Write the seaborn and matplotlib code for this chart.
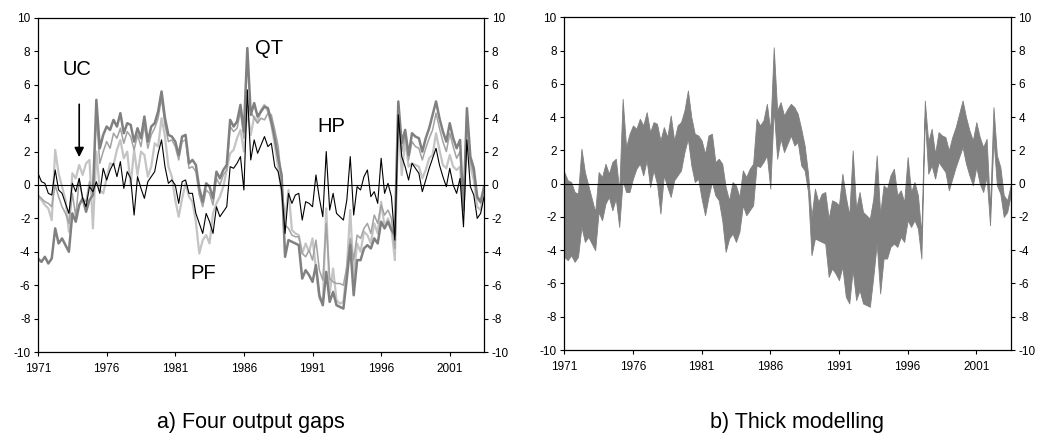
import numpy as np
import pandas as pd
import matplotlib.pyplot as plt
import seaborn as sns

# Quarterly output gaps (%), 1971Q1 - 2003Q3
start_year = 1971

hp = [0.7, 0.2, 0.1, -0.5,
      -0.6, 0.9, -0.3, -0.5,
      -1.1, -1.7, 0.1, -0.4,
      0.4, -0.8, -1.3, -0.1,
      -0.4, 0.2, -0.5, 1.0,
      0.3, 0.9, 1.3, 0.5,
      1.4, -0.2, 0.8, 0.4,
      -1.8, 0.5, -0.2, -0.8,
      0.2, 0.5, 0.8, 1.9,
      2.7, 1.1, 0.1, 0.3,
      0.0, -1.1, 0.2, 0.3,
      -0.5, -0.5, -1.7, -2.3,
      -2.9, -1.7, -2.2, -2.9,
      -1.3, -1.9, -1.6, -1.3,
      1.1, 1.0, 1.3, 1.7,
      -0.3, 5.7, 1.5, 2.7,
      1.9, 2.4, 2.9, 2.3,
      2.5, 1.1, 0.8, -0.3,
      -2.9, -0.5, -1.1, -0.6,
      -0.5, -2.1, -1.0, -1.1,
      -1.3, 0.6, -0.8, -1.9,
      2.0, -1.5, -0.5, -1.7,
      -1.9, -2.1, -0.9, 1.7,
      -1.8, -0.1, -0.3, 0.5,
      0.9, -0.7, -0.4, -1.1,
      1.6, -0.5, 0.1, -0.7,
      -3.3, 4.2, 1.7, 1.1,
      0.3, 1.3, 1.0, 0.7,
      -0.4, 0.3, 1.0, 1.6,
      2.2, 1.2, 0.5, -0.1,
      1.0, 0.0, -0.5, 0.4,
      -2.5, 2.7, -0.1, -0.6,
      -2.0, -1.7, -0.7]

qt = [-4.4, -4.6, -4.3, -4.7,
      -4.4, -2.6, -3.5, -3.2,
      -3.6, -4.0, -1.7, -2.2,
      -1.2, -0.8, -1.6, -0.9,
      -0.6, 5.1, 2.2, 3.0,
      3.5, 3.3, 3.9, 3.5,
      4.3, 3.1, 3.7, 3.6,
      2.6, 3.4, 2.8, 4.1,
      2.6, 3.5, 3.7, 4.4,
      5.6, 4.0, 3.0, 2.9,
      2.6, 1.8, 2.9, 3.0,
      1.3, 1.5, 1.2, -0.2,
      -1.0, 0.1, -0.1, -0.8,
      0.8, 0.4, 0.9, 1.2,
      3.9, 3.5, 3.8, 4.8,
      3.2, 8.2, 4.2, 4.9,
      4.1, 4.4, 4.7, 4.6,
      3.8, 2.8, 1.6, 0.6,
      -4.3, -3.3, -3.4, -3.5,
      -3.6, -5.6, -5.1, -5.4,
      -5.8, -4.8, -6.6, -7.2,
      -5.2, -7.0, -6.4, -7.2,
      -7.3, -7.4, -5.6, -3.6,
      -6.6, -4.5, -4.5, -3.8,
      -3.6, -3.8, -3.2, -3.5,
      -2.2, -2.6, -2.2, -2.7,
      -3.0, 5.0, 2.5, 3.3,
      1.8, 3.1, 2.9, 2.8,
      2.0, 2.8, 3.4, 4.2,
      5.0, 4.0, 3.2, 2.6,
      3.7, 2.8, 2.2, 2.7,
      -1.5, 4.6, 1.7, 1.0,
      -0.7, -1.0, -0.1]

uc = [-0.6, -0.8, -1.0, -1.1,
      -1.3, 0.0, -0.7, -1.3,
      -1.7, -2.3, -0.5, -1.9,
      0.3, -0.8, -1.0, 0.2,
      -0.4, 4.2, 1.3, 2.0,
      2.6, 2.2, 3.1, 2.8,
      3.4, 2.5, 3.2, 2.9,
      2.1, 3.0, 2.3, 3.6,
      2.2, 3.0, 3.4, 4.0,
      5.2, 3.6, 2.6, 2.7,
      2.3, 1.5, 2.6, 2.7,
      1.0, 1.1, 0.8, -0.6,
      -1.3, -0.3, -0.5, -1.2,
      0.4, 0.0, 0.6, 0.9,
      3.5, 3.2, 3.4, 4.4,
      2.8, 4.8, 4.4, 4.0,
      3.7, 4.0, 3.9, 4.3,
      4.2, 3.3, 2.3, 0.2,
      -2.4, -2.6, -3.0, -3.1,
      -3.1, -4.1, -4.3, -3.9,
      -4.5, -3.3, -5.1, -5.7,
      -2.3, -5.6, -5.8, -5.9,
      -5.9, -6.0, -4.9, -3.2,
      -4.5, -3.0, -3.2, -2.6,
      -2.3, -2.9, -1.8, -2.3,
      -1.2, -1.8, -1.5, -2.0,
      -3.8, 4.8, 2.0, 3.0,
      1.5, 2.6, 2.3, 2.2,
      1.5, 2.2, 2.8, 3.3,
      4.3, 3.4, 2.6, 2.0,
      3.1, 2.3, 1.6, 2.0,
      -1.5, 4.2, 1.4, 0.7,
      -0.8, -1.1, -0.2]

pf = [-0.7, -0.9, -1.2, -1.4,
      -2.1, 2.1, 0.7, -0.1,
      -0.9, -2.8, 0.7, 0.4,
      1.2, 0.6, 1.3, 1.5,
      -2.6, 2.0, -0.3, -0.5,
      0.4, 1.3, 1.2, 2.1,
      2.7, 1.6, 2.0, 0.0,
      2.1, 0.6, 2.0, 1.8,
      0.5, 1.1, 2.5, 2.3,
      4.0, 2.9, 1.1, 0.5,
      -0.9, -1.9, -0.8, 0.1,
      -0.7, -1.0, -2.2, -4.1,
      -3.3, -3.0, -3.5, -1.7,
      -1.1, -0.7, -0.1, 0.9,
      1.9, 2.1, 2.8, 3.3,
      2.0, 4.5, 3.0, 4.1,
      3.8, 4.5, 4.8, 4.4,
      3.6, 2.4, 1.0, -0.5,
      -2.0, -0.3, -2.7, -2.9,
      -3.0, -4.1, -3.5, -4.0,
      -3.2, -5.0, -6.8, -7.1,
      -1.4, -6.5, -5.0, -6.9,
      -7.1, -7.0, -5.0, -1.5,
      -5.5, -3.5, -4.0, -2.8,
      -3.0, -3.5, -2.3, -2.9,
      -1.0, -2.5, -2.0, -2.6,
      -4.5, 4.0, 0.6, 2.7,
      1.1, 1.3, 1.2, 1.1,
      0.4, 0.9, 1.6, 1.8,
      3.1, 2.1, 1.2, 1.0,
      1.8, 1.1, 0.9, 1.1,
      -1.7, 4.1, 1.1, 0.3,
      -1.3, -1.5, -0.3]

year_ticks = [1971, 1976, 1981, 1986, 1991, 1996, 2001]
gap_ticks = [-10, -8, -6, -4, -2, 0, 2, 4, 6, 8, 10]
captions = ["a) Four output gaps", "b) Thick modelling"]

df = pd.DataFrame({"HP": hp, "QT": qt, "UC": uc, "PF": pf})
df["t"] = start_year + np.arange(len(df)) / 4.0

sns.set_style("white")
plt.rcParams["font.family"] = ["Liberation Sans", "DejaVu Sans"]
plt.rcParams["text.color"] = "black"
plt.rcParams["xtick.color"] = "black"
plt.rcParams["ytick.color"] = "black"

fig = plt.figure(figsize=(10.39, 4.41), dpi=100)
ax1 = fig.add_axes([0.0366, 0.2018, 0.4293, 0.7574])
ax2 = fig.add_axes([0.5431, 0.2063, 0.4296, 0.7544])

# estilo de cada serie
line_styles = {
    "PF": dict(color="#c4c4c4", lw=1.6),
    "UC": dict(color="#a2a2a2", lw=1.1),
    "QT": dict(color="#808080", lw=1.8),
    "HP": dict(color="black", lw=0.8),
}
for name, st in line_styles.items():
    sns.lineplot(data=df, x="t", y=name, ax=ax1, **st)

# panel b: banda entre min y max
lo = df[["HP", "QT", "UC", "PF"]].min(axis=1)
hi = df[["HP", "QT", "UC", "PF"]].max(axis=1)
ax2.fill_between(df["t"], lo, hi, color="#808080", lw=0.6, edgecolor="#808080")

for ax in (ax1, ax2):
    ax.axhline(0, color="black", lw=0.8, zorder=5)
    ax.set_xlim(1971, 2003.5)
    ax.set_ylim(-10, 10)
    ax.set_xticks(year_ticks)
    ax.set_xticklabels([str(y) for y in year_ticks])
    ax.set_yticks(gap_ticks)
    ax.set_yticklabels([str(v) for v in gap_ticks])
    ax.set_xlabel("")
    ax.set_ylabel("")
    ax.tick_params(axis="y", which="both", left=True, right=True,
                   labelleft=True, labelright=True, direction="out",
                   length=3, width=0.8, pad=2.5, labelsize=8.5,
                   labelcolor="black")
    ax.tick_params(axis="x", bottom=True, direction="out", length=3,
                   width=0.8, pad=5, labelsize=8.5, labelcolor="black")
    for sp in ax.spines.values():
        sp.set_visible(True)
        sp.set_color("black")
        sp.set_linewidth(0.9)

# etiquetas de las series
ax1.text(1973.8, 6.9, "UC", fontsize=14.5, ha="center", va="center")
ax1.text(1987.8, 8.2, "QT", fontsize=14.5, ha="center", va="center")
ax1.text(1992.4, 3.5, "HP", fontsize=14.5, ha="center", va="center")
ax1.text(1983.0, -5.3, "PF", fontsize=14.5, ha="center", va="center")
ax1.annotate("", xy=(1974.0, 1.5), xytext=(1974.0, 5.0),
             arrowprops=dict(arrowstyle="-|>", color="black", lw=1.2,
                             mutation_scale=14))

fig.text(0.2416, 0.043, captions[0], fontsize=15.5, ha="center", va="center")
fig.text(0.767, 0.043, captions[1], fontsize=15.5, ha="center", va="center")

plt.savefig("out.png", dpi=100)
